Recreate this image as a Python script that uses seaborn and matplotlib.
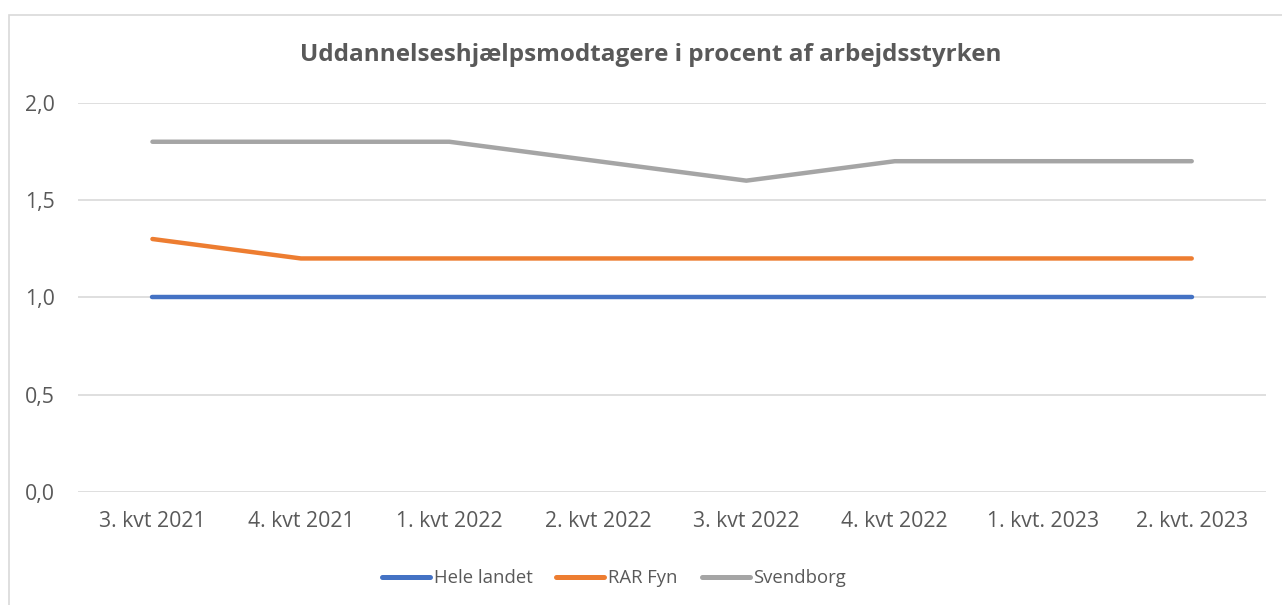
import pandas as pd
import numpy as np
import seaborn as sns
import matplotlib.pyplot as plt
from matplotlib.patches import Rectangle

# Data
kvartaler = ['3. kvt 2021', '4. kvt 2021', '1. kvt 2022', '2. kvt 2022',
             '3. kvt 2022', '4. kvt 2022', '1. kvt. 2023', '2. kvt. 2023']
hele_landet = [1.0, 1.0, 1.0, 1.0, 1.0, 1.0, 1.0, 1.0]
rar_fyn = [1.3, 1.2, 1.2, 1.2, 1.2, 1.2, 1.2, 1.2]
svendborg = [1.8, 1.8, 1.8, 1.7, 1.6, 1.7, 1.7, 1.7]
serier = ['Hele landet', 'RAR Fyn', 'Svendborg']
farver = ['#4472C4', '#ED7D31', '#A5A5A5']

df = pd.DataFrame({'kvartal': kvartaler * 3,
                   'x': list(range(len(kvartaler))) * 3,
                   'værdi': hele_landet + rar_fyn + svendborg,
                   'serie': np.repeat(serier, len(kvartaler))})

sns.set_style('white')
plt.rcParams['font.family'] = ['Open Sans', 'DejaVu Sans']
tekst = '#595959'

f = plt.figure(figsize=(12.82, 6.05), dpi=100)
a = f.add_axes([0.061, 0.187, 0.9265, 0.643])

# Ramme om diagrammet
f.patches.append(Rectangle((9 / 1282, -0.1), 1.2, 1 - 15 / 605 + 0.1,
                           transform=f.transFigure, fill=False,
                           edgecolor='#D9D9D9', linewidth=1.2))

sns.lineplot(data=df, x='x', y='værdi', hue='serie', palette=farver,
             linewidth=3.2, sort=False, ax=a, legend=False)

a.set_xlim(-0.5, len(kvartaler) - 0.5)
a.set_ylim(0, 2)
a.set_yticks([0, 0.5, 1.0, 1.5, 2.0])
a.set_yticklabels(['0,0', '0,5', '1,0', '1,5', '2,0'])
a.set_xticks(range(len(kvartaler)))
a.set_xticklabels(kvartaler)
a.tick_params(axis='both', length=0, labelsize=15.3, colors=tekst)
a.tick_params(axis='x', pad=14)
a.tick_params(axis='y', pad=17)
a.set_xlabel('')
a.set_ylabel('')

# Linjer
a.set_axisbelow(True)
a.yaxis.grid(True, color='#D9D9D9', linewidth=1.2)
a.xaxis.grid(False)
for s in a.spines.values():
    s.set_visible(False)

f.text(651 / 1282, 1 - 55 / 605, 'Uddannelseshjælpsmodtagere i procent af arbejdsstyrken',
       ha='center', va='center', fontsize=17.5, fontweight='bold', color=tekst)

# Forklaring
handles = [plt.Line2D([], [], color=c, linewidth=3.6, solid_capstyle='round') for c in farver]
f.legend(handles, serier, loc='center', bbox_to_anchor=(614 / 1282, 1 - 578 / 605),
         ncol=3, frameon=False, fontsize=13.3, labelcolor=tekst,
         handlelength=2.6, handletextpad=0.2, columnspacing=1.3)

f.savefig('out.png', dpi=100)
